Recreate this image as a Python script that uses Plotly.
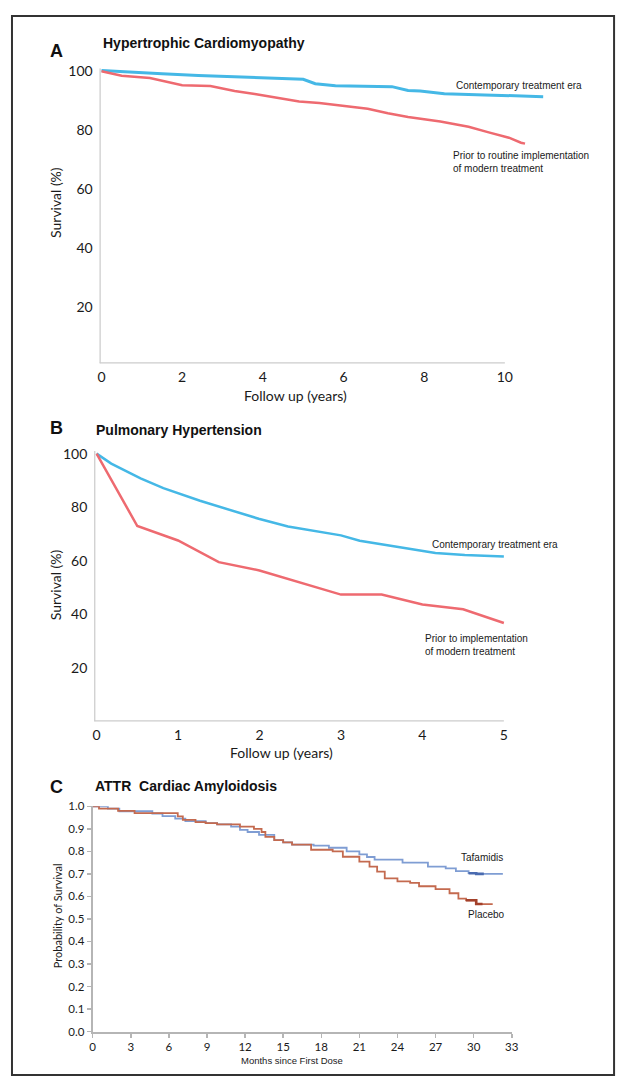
import plotly.graph_objects as go

# ---------------- data ----------------
# Panel A: Hypertrophic Cardiomyopathy (years, survival %)
a_contemp_x = [0, 1.35, 1.5, 2.4, 3.2, 4.0, 5.0, 5.3, 5.8, 7.2, 7.6, 7.9, 8.5, 9.5, 10.5, 10.95]
a_contemp_y = [100.3, 99.5, 99.2, 98.6, 98.2, 97.8, 97.3, 95.8, 95.1, 94.8, 93.5, 93.3, 92.4, 92.0, 91.6, 91.4]
a_prior_x = [0, 0.25, 0.5, 1.2, 1.7, 2.0, 2.7, 3.3, 3.8, 4.4, 4.9, 5.4, 6.0, 6.6, 7.1, 7.6, 8.4, 9.1, 9.6, 10.1, 10.4, 10.5]
a_prior_y = [100, 99.2, 98.5, 97.7, 96.3, 95.3, 95.0, 93.3, 92.3, 90.8, 89.8, 89.3, 88.3, 87.3, 85.8, 84.5, 83.0, 81.2, 79.3, 77.5, 75.8, 75.5]

# Panel B: Pulmonary Hypertension (years, survival %)
b_contemp_x = [0, 0.18, 0.54, 0.82, 1.27, 1.6, 1.99, 2.35, 2.71, 3.0, 3.23, 3.67, 4.16, 4.52, 5.0]
b_contemp_y = [100, 96.3, 90.8, 87.1, 82.4, 79.4, 75.7, 72.8, 71.0, 69.5, 67.5, 65.2, 62.9, 62.2, 61.6]
b_prior_x = [0, 0.5, 1.0, 1.5, 2.0, 2.5, 3.0, 3.5, 4.0, 4.5, 5.0]
b_prior_y = [100, 73, 67.6, 59.5, 56.4, 51.8, 47.4, 47.4, 43.7, 41.9, 36.8]

# Panel C: ATTR Cardiac Amyloidosis (months, probability of survival)
c_taf_x = [0, 1.2, 2.1, 4.7, 5.5, 6.5, 7.3, 8.9, 9.8, 10.9, 11.6, 12.2, 13.1, 14.3, 15.0, 15.7, 17.4, 18.6,
           20.0, 21.0, 21.6, 22.2, 24.4, 26.4, 27.8, 28.6, 29.6, 30.2, 32.3]
c_taf_y = [1.0, 0.99, 0.978, 0.968, 0.956, 0.945, 0.934, 0.925, 0.92, 0.91, 0.895, 0.886, 0.873, 0.85, 0.84, 0.83,
           0.825, 0.816, 0.80, 0.787, 0.775, 0.763, 0.75, 0.732, 0.724, 0.712, 0.703, 0.70, 0.70]
c_pla_x = [0, 0.5, 2.0, 3.3, 6.7, 7.1, 8.1, 8.9, 9.8, 11.6, 12.7, 13.3, 13.6, 14.3, 15.0, 15.7, 17.2, 18.9,
           19.7, 21.0, 21.8, 22.4, 23.0, 24.0, 25.0, 25.7, 27.0, 28.1, 28.8, 29.4, 30.2, 31.5]
c_pla_y = [1.0, 0.99, 0.98, 0.97, 0.955, 0.94, 0.93, 0.925, 0.92, 0.91, 0.90, 0.886, 0.864, 0.85, 0.84, 0.83,
           0.807, 0.80, 0.776, 0.754, 0.732, 0.71, 0.68, 0.667, 0.66, 0.645, 0.632, 0.614, 0.59, 0.583, 0.566, 0.566]
# dense censoring near the end of follow-up (darker, heavier stretches)
c_taf_cens_x = [29.6, 30.2, 30.8]
c_taf_cens_y = [0.703, 0.70, 0.70]
c_pla_cens_x = [29.4, 30.2, 30.7]
c_pla_cens_y = [0.583, 0.566, 0.566]

a_xticks = [0, 2, 4, 6, 8, 10]
a_yticks = [20, 40, 60, 80, 100]
b_xticks = [0, 1, 2, 3, 4, 5]
b_yticks = [20, 40, 60, 80, 100]
c_xticks = [0, 3, 6, 9, 12, 15, 18, 21, 24, 27, 30, 33]
c_yticks = [0.0, 0.1, 0.2, 0.3, 0.4, 0.5, 0.6, 0.7, 0.8, 0.9, 1.0]

# ---------------- geometry ----------------
# The page body keeps its default 8px margin: the figure starts at (8, 8)
# and is sized to end at the window's right edge and 8px above its bottom.
OX, OY = 8, 8
W, H = 625 - OX, 1090 - 2 * OY

def px(x):  # page pixel -> paper fraction
    return (x - OX) / W

def py(y):
    return 1 - (y - OY) / H

BLUE = "#45b8e6"
RED = "#ee6a70"
C_BLUE = "#7f9dd3"
C_RED = "#c46a4f"
AXIS = "#cccccc"
TXT = "#1a1a1a"
TICKFONT = dict(family="Lato, Open Sans, sans-serif", size=14, color=TXT)

fig = go.Figure()

fig.add_trace(go.Scatter(x=a_contemp_x, y=a_contemp_y, mode="lines", line=dict(color=BLUE, width=3),
                         xaxis="x", yaxis="y", showlegend=False))
fig.add_trace(go.Scatter(x=a_prior_x, y=a_prior_y, mode="lines", line=dict(color=RED, width=2.5),
                         xaxis="x", yaxis="y", showlegend=False))
fig.add_trace(go.Scatter(x=b_contemp_x, y=b_contemp_y, mode="lines", line=dict(color=BLUE, width=2.5),
                         xaxis="x2", yaxis="y2", showlegend=False))
fig.add_trace(go.Scatter(x=b_prior_x, y=b_prior_y, mode="lines", line=dict(color=RED, width=2.5),
                         xaxis="x2", yaxis="y2", showlegend=False))
fig.add_trace(go.Scatter(x=c_taf_x, y=c_taf_y, mode="lines", line=dict(color=C_BLUE, width=1.8, shape="hv"),
                         xaxis="x3", yaxis="y3", showlegend=False))
fig.add_trace(go.Scatter(x=c_pla_x, y=c_pla_y, mode="lines", line=dict(color=C_RED, width=1.8, shape="hv"),
                         xaxis="x3", yaxis="y3", showlegend=False))
fig.add_trace(go.Scatter(x=c_taf_cens_x, y=c_taf_cens_y, mode="lines",
                         line=dict(color="#4a6bb0", width=2.6, shape="hv"),
                         xaxis="x3", yaxis="y3", showlegend=False))
fig.add_trace(go.Scatter(x=c_pla_cens_x, y=c_pla_cens_y, mode="lines",
                         line=dict(color="#a3402a", width=2.6, shape="hv"),
                         xaxis="x3", yaxis="y3", showlegend=False))

common_noline = dict(showgrid=False, zeroline=False, showline=False, ticks="outside",
                     tickcolor="rgba(0,0,0,0)", tickfont=TICKFONT)
c_axis = dict(showgrid=False, zeroline=False, showline=True, linecolor="#b5b5b5", linewidth=2,
              ticks="outside", ticklen=4, tickcolor="#b5b5b5", tickwidth=1.5,
              tickfont=dict(family="Lato, sans-serif", size=11.5, color=TXT))

fig.update_layout(
    width=W, height=H, margin=dict(l=0, r=0, t=0, b=0),
    paper_bgcolor="white", plot_bgcolor="rgba(0,0,0,0)",
    xaxis=dict(domain=[px(97.95), px(559.2)], range=[-0.05, 11.2], anchor="y",
               tickvals=a_xticks, ticklen=1, **common_noline),
    yaxis=dict(domain=[py(360.8), py(62.0)], range=[1, 101], anchor="x",
               tickvals=a_yticks, ticklen=3, **common_noline),
    xaxis2=dict(domain=[px(92.5), px(515.6)], range=[-0.03, 5.08], anchor="y2",
                tickvals=b_xticks, ticklen=1, **common_noline),
    yaxis2=dict(domain=[py(723.25), py(449.3)], range=[0, 101], anchor="x2",
                tickvals=b_yticks, ticklen=3, **common_noline),
    xaxis3=dict(domain=[px(91), px(517)], range=[0, 33], anchor="y3", tickvals=c_xticks, **c_axis),
    yaxis3=dict(domain=[py(1037), py(809)], range=[0, 1], anchor="x3", tickvals=c_yticks,
                tickformat=".1f", **c_axis),
)

shapes = [
    # outer frame
    dict(type="rect", xref="paper", yref="paper", x0=px(9), x1=px(621), y0=py(1081), y1=py(9),
         line=dict(color="#333333", width=2)),
    # panel A axis lines
    dict(type="line", xref="x", yref="y", x0=-0.05, x1=-0.05, y0=1, y1=101, line=dict(color=AXIS, width=2.5)),
    dict(type="line", xref="x", yref="y", x0=-0.05, x1=10.0, y0=1, y1=1, line=dict(color=AXIS, width=2.5)),
    # panel B axis lines
    dict(type="line", xref="x2", yref="y2", x0=-0.03, x1=-0.03, y0=0, y1=101, line=dict(color=AXIS, width=2.5)),
    dict(type="line", xref="x2", yref="y2", x0=-0.03, x1=5.0, y0=0, y1=0, line=dict(color=AXIS, width=2.5)),
]
fig.update_layout(shapes=shapes)

ARIAL = "Liberation Sans, Arial, sans-serif"
LATO = "Lato, sans-serif"
ann = []
def add(text, x, y, size, family=ARIAL, bold=False, xanchor="left", yanchor="middle", angle=0, color=TXT):
    t = f"<b>{text}</b>" if bold else text
    ann.append(dict(text=t, x=px(x), y=py(y), xref="paper", yref="paper", showarrow=False,
                    xanchor=xanchor, yanchor=yanchor, textangle=angle,
                    font=dict(family=family, size=size, color=color)))

# Panel letters and titles
add("A", 46, 44, 18, bold=True, color="#111")
add("Hypertrophic Cardiomyopathy", 99, 36, 14, bold=True, color="#111")
add("B", 46, 426, 18, bold=True, color="#111")
add("Pulmonary Hypertension", 92, 428, 14, bold=True, color="#111")
add("C", 46, 789, 18, bold=True, color="#111")
add("ATTR  Cardiac Amyloidosis", 91, 788, 14, bold=True, color="#111")

# Axis titles
add("Survival (%)", 53, 198, 14, family=LATO, xanchor="center", angle=-90)
add("Follow up (years)", 297, 393, 14, family=LATO, xanchor="center")
add("Survival (%)", 53, 585, 14, family=LATO, xanchor="center", angle=-90)
add("Follow up (years)", 283, 755, 14, family=LATO, xanchor="center")
add("Probability of Survival", 56, 920, 11, family=LATO, xanchor="center", angle=-90)
add("Months since First Dose", 294, 1066, 9.5, xanchor="center")

# Series labels
add("Contemporary treatment era", 458, 79, 10)
add("Prior to routine implementation", 455, 150, 10)
add("of modern treatment", 455, 163, 10)
add("Contemporary treatment era", 434, 544, 10)
add("Prior to implementation", 427, 639, 10)
add("of modern treatment", 427, 652, 10)
add("Tafamidis", 463, 861, 10)
add("Placebo", 471, 919, 10)

fig.update_layout(annotations=ann)

fig.write_html("out.html", config={"displayModeBar": False, "staticPlot": True})
